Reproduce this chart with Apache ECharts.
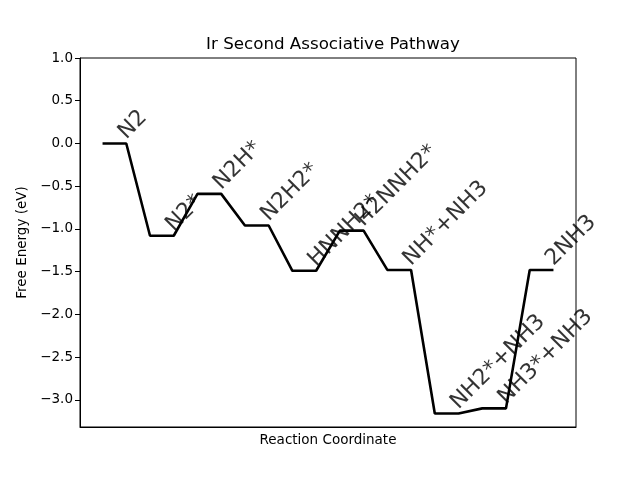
<!DOCTYPE html>
<html><head><meta charset="utf-8">
<script src="https://cdn.jsdelivr.net/npm/echarts@6/dist/echarts.min.js"></script>
<style>html,body{margin:0;padding:0;background:#fff}#c{width:640px;height:480px}</style>
</head><body><div id="c"></div>
<script>
const states = ['N2','N2*','N2H*','N2H2*','HNNH2*','H2NNH2*','NH*+NH3','NH2*+NH3','NH3*+NH3','2NH3'];
const energies = [0, -1.08, -0.59, -0.96, -1.49, -1.02, -1.48, -3.16, -3.10, -1.48];
const yTicks = [-3.0, -2.5, -2.0, -1.5, -1.0, -0.5, 0.0, 0.5, 1.0];

const lineData = [];
energies.forEach((e, i) => { lineData.push([2 * i, e]); lineData.push([2 * i + 1, e]); });
const labelData = energies.map((e, i) => ({ value: [2 * i + 0.5, e], name: states[i] }));

const F = 'DejaVu Sans';
const chart = echarts.init(document.getElementById('c'), null, { renderer: 'canvas' });
chart.setOption({
  animation: false,
  backgroundColor: '#fff',
  title: { text: 'Ir Second Associative Pathway', left: 328, textAlign: 'center', top: 31,
    textStyle: { fontFamily: F, fontSize: 16.7, fontWeight: 'normal', color: '#000' } },
  grid: { left: 80, right: 64, top: 58, bottom: 53, show: true, borderColor: '#000', borderWidth: 1, backgroundColor: 'transparent' },
  xAxis: { type: 'value', min: -0.95, max: 19.95, name: 'Reaction Coordinate', nameLocation: 'middle', nameGap: 6,
    nameTextStyle: { fontFamily: F, fontSize: 13.5, color: '#000', verticalAlign: 'top' },
    axisLine: { show: true, onZero: false, lineStyle: { color: '#000', width: 1 } }, axisTick: { show: false }, axisLabel: { show: false }, splitLine: { show: false } },
  yAxis: { type: 'value', min: -3.318, max: 1.0, name: 'Free Energy (eV)', nameLocation: 'middle', nameGap: 50,
    nameTextStyle: { fontFamily: F, fontSize: 13.5, color: '#000' },
    axisLine: { show: true, onZero: false, lineStyle: { color: '#000', width: 1 } },
    axisTick: { show: true, length: 5, customValues: yTicks, lineStyle: { color: '#000', width: 1 } },
    axisLabel: { customValues: yTicks, margin: 7, fontFamily: F, fontSize: 13.5, color: '#000',
      formatter: v => v.toFixed(1).replace('-', '\u2212') },
    splitLine: { show: false } },
  series: [
    { type: 'line', data: lineData, showSymbol: false, symbol: 'none', lineStyle: { color: '#000', width: 2.6 }, z: 3 },
    { type: 'scatter', data: labelData, symbolSize: 0, z: 4,
      label: { show: true, position: 'inside', formatter: p => p.name, rotate: 45, align: 'left', verticalAlign: 'bottom',
        offset: [11, 11], fontFamily: F, fontSize: 22, color: '#000' } }
  ]
});
</script></body></html>
